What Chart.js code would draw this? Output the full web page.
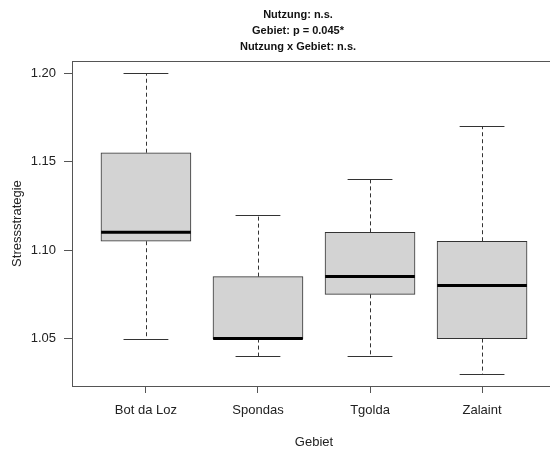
<!DOCTYPE html>
<html>
<head>
<meta charset="utf-8">
<script src="https://cdn.jsdelivr.net/npm/chart.js@4.4.1/dist/chart.umd.min.js"></script>
<style>
  html, body { margin: 0; padding: 0; background: #fff; overflow: hidden; }
  #wrap { position: absolute; left: 0; top: 0; width: 596px; height: 450px; }
</style>
</head>
<body>
<div id="wrap"><canvas id="boxChart"></canvas></div>
<script>
// data
const categories = ['Bot da Loz', 'Spondas', 'Tgolda', 'Zalaint'];
const whiskerLow = [1.05, 1.04, 1.04, 1.03];
const q1 = [1.105, 1.05, 1.075, 1.05];
const median = [1.11, 1.05, 1.085, 1.08];
const q3 = [1.155, 1.085, 1.11, 1.105];
const whiskerHigh = [1.20, 1.12, 1.14, 1.17];
const yTicks = [1.05, 1.10, 1.15, 1.20];
const titleLines = ['Nutzung: n.s.', 'Gebiet: p = 0.045*', 'Nutzung x Gebiet: n.s.'];

const FONT = "'Liberation Sans', Arial, sans-serif";
const BOX_W = 0.8;   // in x units
const CAP_W = 0.4;

// whiskers, caps, medians and the plot frame
const boxExtras = {
    id: 'boxExtras',
    beforeDatasetsDraw(chart) {
        const ctx = chart.ctx;
        const x = chart.scales.x, y = chart.scales.y;
        ctx.save();
        ctx.strokeStyle = '#333';
        ctx.lineWidth = 1;
        categories.forEach((c, i) => {
            const px = Math.round(x.getPixelForValue(i + 1)) + 0.5;
            ctx.setLineDash([4, 3]);
            ctx.beginPath();
            ctx.moveTo(px, y.getPixelForValue(q3[i]));
            ctx.lineTo(px, y.getPixelForValue(whiskerHigh[i]));
            ctx.moveTo(px, y.getPixelForValue(q1[i]));
            ctx.lineTo(px, y.getPixelForValue(whiskerLow[i]));
            ctx.stroke();
            ctx.setLineDash([]);
            const cl = x.getPixelForValue(i + 1 - CAP_W / 2);
            const cr = x.getPixelForValue(i + 1 + CAP_W / 2);
            ctx.beginPath();
            [whiskerHigh[i], whiskerLow[i]].forEach(v => {
                const py = Math.round(y.getPixelForValue(v)) + 0.5;
                ctx.moveTo(cl, py);
                ctx.lineTo(cr, py);
            });
            ctx.stroke();
        });
        ctx.restore();
    },
    afterDatasetsDraw(chart) {
        const ctx = chart.ctx;
        const x = chart.scales.x, y = chart.scales.y;
        const a = chart.chartArea;
        ctx.save();
        ctx.strokeStyle = '#000';
        ctx.lineWidth = 3;
        categories.forEach((c, i) => {
            const py = y.getPixelForValue(median[i]);
            ctx.beginPath();
            ctx.moveTo(x.getPixelForValue(i + 1 - BOX_W / 2), py);
            ctx.lineTo(x.getPixelForValue(i + 1 + BOX_W / 2), py);
            ctx.stroke();
        });
        ctx.strokeStyle = '#555';
        ctx.lineWidth = 1;
        ctx.strokeRect(Math.round(a.left) + 0.5, Math.round(a.top) + 0.5,
            Math.round(a.right - a.left), Math.round(a.bottom - a.top));
        ctx.restore();
    }
};

const ctx = document.getElementById('boxChart').getContext('2d');
new Chart(ctx, {
    type: 'bar',
    data: {
        datasets: [{
            data: categories.map((c, i) => ({ x: i + 1, y: [q1[i], q3[i]] })),
            backgroundColor: '#d3d3d3',
            borderColor: '#333',
            borderWidth: 1,
            borderSkipped: false,
            barThickness: 90
        }]
    },
    options: {
        responsive: true,
        maintainAspectRatio: false,
        animation: false,
        layout: { padding: 0 },
        plugins: {
            legend: { display: false },
            tooltip: { enabled: false },
            title: {
                display: true,
                text: titleLines,
                color: '#111',
                font: { family: FONT, size: 11, weight: 'bold', lineHeight: 1.45 },
                padding: { top: 7, bottom: 6.2 }
            }
        },
        scales: {
            x: {
                type: 'linear',
                min: 0.34,
                max: 4.66,
                offset: false,
                afterBuildTicks(scale) { scale.ticks = categories.map((c, i) => ({ value: i + 1 })); },
                afterFit(scale) { scale.height = 64; },
                ticks: {
                    callback: (v) => categories[v - 1],
                    color: '#222',
                    font: { family: FONT, size: 13 },
                    padding: 10,
                    maxRotation: 0,
                    autoSkip: false
                },
                grid: { drawOnChartArea: false, offset: false, tickLength: 7, color: '#555' },
                border: { display: false },
                title: {
                    display: true,
                    text: 'Gebiet',
                    color: '#222',
                    font: { family: FONT, size: 13, lineHeight: 1.2 },
                    padding: { top: 0, bottom: 0 }
                }
            },
            y: {
                min: 1.0232,
                max: 1.2068,
                afterBuildTicks(scale) { scale.ticks = yTicks.map(v => ({ value: v })); },
                afterFit(scale) { scale.width = 72; },
                ticks: {
                    callback: (v) => v.toFixed(2),
                    color: '#222',
                    font: { family: FONT, size: 13 },
                    padding: 8
                },
                grid: { drawOnChartArea: false, tickLength: 8, color: '#555' },
                border: { display: false },
                title: {
                    display: true,
                    text: 'Stressstrategie',
                    color: '#222',
                    font: { family: FONT, size: 13, lineHeight: 1.2 },
                    padding: { top: 10, bottom: 0 }
                }
            },
            // empty right margin, so the plot runs past the page edge as in the reference
            yRight: {
                position: 'right',
                min: 1.0232,
                max: 1.2068,
                afterFit(scale) { scale.width = 40; },
                ticks: { display: false },
                grid: { display: false },
                border: { display: false }
            }
        }
    },
    plugins: [boxExtras]
});
</script>
</body>
</html>
